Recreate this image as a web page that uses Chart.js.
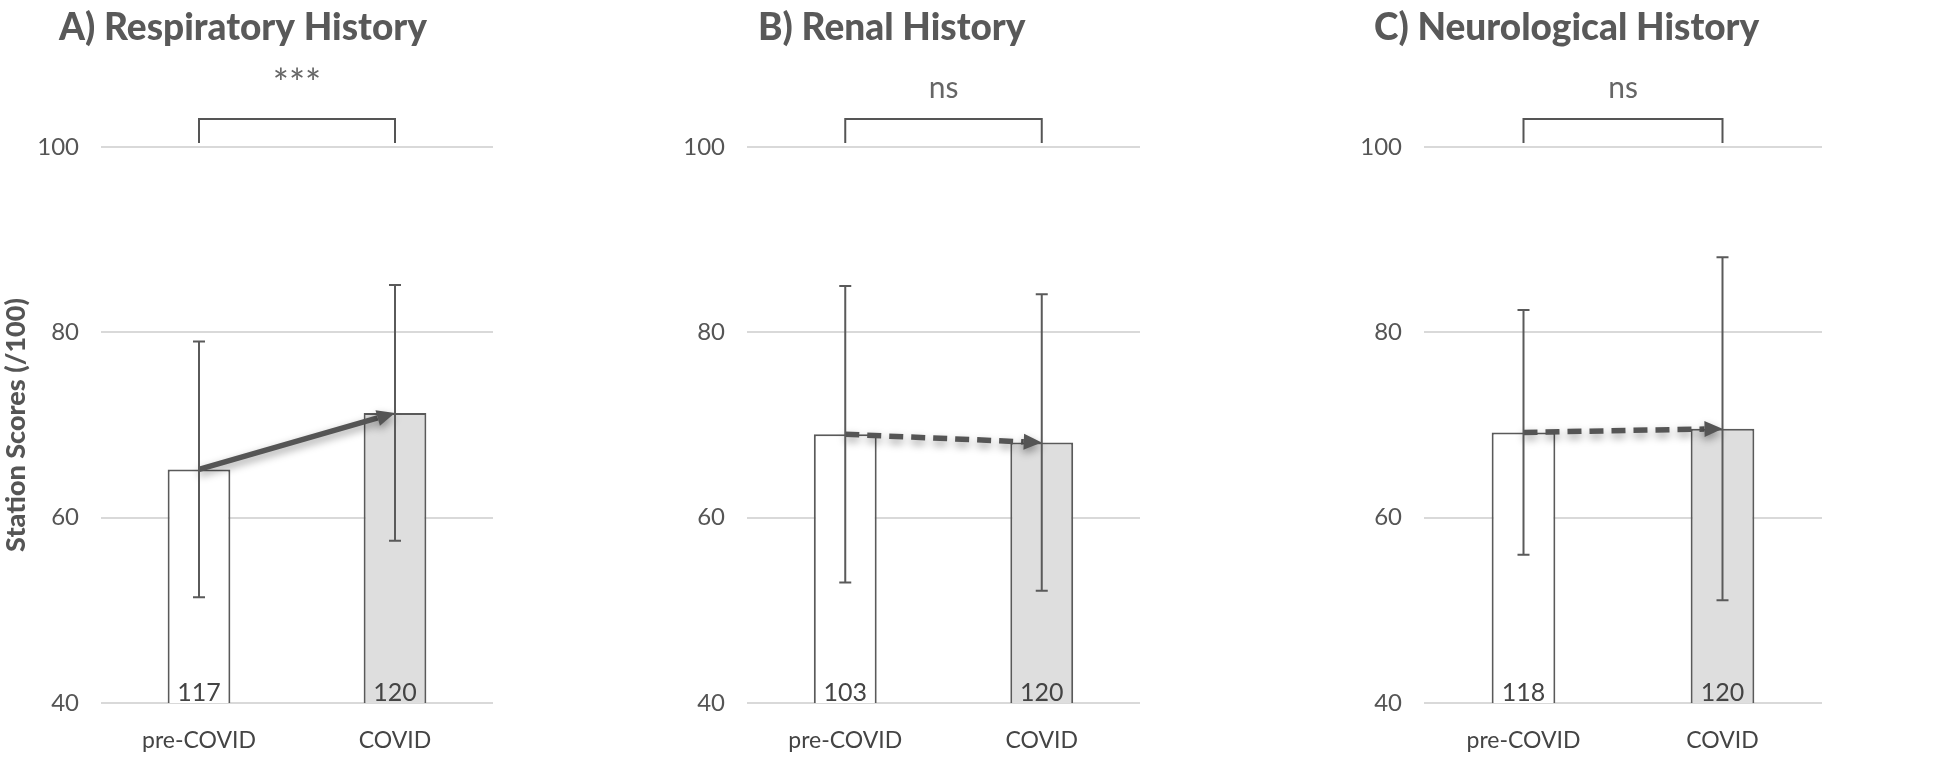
<!DOCTYPE html>
<html>
<head>
<meta charset="utf-8">
<script src="https://cdn.jsdelivr.net/npm/chart.js@4.4.0/dist/chart.umd.min.js"></script>
<style>
  html, body { margin: 0; padding: 0; background: #fff; }
  #wrap { position: relative; width: 1944px; height: 759px; overflow: hidden; }
  canvas { position: absolute; top: 0; }
</style>
</head>
<body>
<div id="wrap">
  <canvas id="chartA" width="648" height="759" style="left:0px"></canvas>
  <canvas id="chartB" width="648" height="759" style="left:648px"></canvas>
  <canvas id="chartC" width="648" height="759" style="left:1296px"></canvas>
</div>
<script>
// data
const groups = ['pre-COVID', 'COVID'];
const yTicks = [40, 60, 80, 100];

const respMeans = [65.2, 71.3];
const respErr = [13.8, 13.8];
const respN = [117, 120];

const renalMeans = [69.0, 68.1];
const renalErr = [16.0, 16.0];
const renalN = [103, 120];

const neuroMeans = [69.2, 69.6];
const neuroErr = [13.2, 18.5];
const neuroN = [118, 120];

const titles = ['A) Respiratory History', 'B) Renal History', 'C) Neurological History'];
const sigLabels = ['***', 'ns', 'ns'];

const FONT = 'Lato, "Open Sans", sans-serif';
const INK = '#595959';

// extra drawing: error bars, trend arrow, n labels, bracket, title
const extras = {
  id: 'extras',
  afterDatasetsDraw(chart, args, o) {
    const ctx = chart.ctx;
    const y = chart.scales.y;
    const bars = chart.getDatasetMeta(0).data;
    ctx.save();

    // trend arrow between bar tops
    const x0 = bars[0].x, y0 = bars[0].y, x1 = bars[1].x, y1 = bars[1].y;
    const ang = Math.atan2(y1 - y0, x1 - x0);
    const head = 18, half = 8;
    const bx = x1 - head * Math.cos(ang), by = y1 - head * Math.sin(ang);
    ctx.shadowColor = 'rgba(0,0,0,0.4)';
    ctx.shadowBlur = 8;
    ctx.shadowOffsetY = 4;
    ctx.strokeStyle = '#555';
    ctx.fillStyle = '#555';
    ctx.lineWidth = 5.5;
    ctx.setLineDash(o.dashed ? [14, 8] : []);
    ctx.beginPath();
    ctx.moveTo(x0, y0);
    ctx.lineTo(bx, by);
    ctx.stroke();
    ctx.setLineDash([]);
    ctx.beginPath();
    ctx.moveTo(x1, y1);
    ctx.lineTo(bx + half * Math.sin(ang), by - half * Math.cos(ang));
    ctx.lineTo(bx - half * Math.sin(ang), by + half * Math.cos(ang));
    ctx.closePath();
    ctx.fill();
    ctx.shadowColor = 'transparent';

    // error bars
    ctx.strokeStyle = '#5a5a5a';
    ctx.lineWidth = 2;
    bars.forEach((b, i) => {
      const top = y.getPixelForValue(o.means[i] + o.err[i]);
      const bot = y.getPixelForValue(o.means[i] - o.err[i]);
      ctx.beginPath();
      ctx.moveTo(b.x, top); ctx.lineTo(b.x, bot);
      ctx.moveTo(b.x - 6, top); ctx.lineTo(b.x + 6, top);
      ctx.moveTo(b.x - 6, bot); ctx.lineTo(b.x + 6, bot);
      ctx.stroke();
    });

    // n labels
    ctx.fillStyle = '#444';
    ctx.font = '25px ' + FONT;
    ctx.textAlign = 'center';
    ctx.textBaseline = 'alphabetic';
    bars.forEach((b, i) => ctx.fillText(String(o.n[i]), b.x, chart.chartArea.bottom - 2));

    // significance bracket
    ctx.strokeStyle = '#555';
    ctx.lineWidth = 2;
    ctx.beginPath();
    ctx.moveTo(x0, 143); ctx.lineTo(x0, 119); ctx.lineTo(x1, 119); ctx.lineTo(x1, 143);
    ctx.stroke();
    ctx.fillStyle = '#666';
    if (o.sig.includes('*')) {
      ctx.font = '38px ' + FONT;
      ctx.fillText(o.sig, (x0 + x1) / 2, 97);
    } else {
      ctx.font = '30px ' + FONT;
      ctx.fillText(o.sig, (x0 + x1) / 2, 98);
    }

    // panel title
    ctx.fillStyle = INK;
    ctx.font = '900 37px ' + FONT;
    ctx.textAlign = 'left';
    ctx.fillText(o.title, o.titleX, 40);
    ctx.restore();
  }
};

function makePanel(id, idx, means, err, n, layout) {
  new Chart(document.getElementById(id), {
    type: 'bar',
    data: {
      labels: groups,
      datasets: [{
        data: means,
        backgroundColor: ['#ffffff', '#dedede'],
        borderColor: '#5a5a5a',
        borderWidth: 2,
        barPercentage: 0.32,
        categoryPercentage: 1
      }]
    },
    options: {
      responsive: false,
      animation: false,
      events: [],
      layout: { padding: { top: 147, right: 648 - layout.right, left: 0, bottom: 0 } },
      scales: {
        x: {
          grid: { display: false },
          border: { display: false },
          ticks: { color: '#444', font: { family: FONT, size: 23 }, padding: 16 },
          afterFit: s => { s.height = 56; }
        },
        y: {
          min: 40, max: 100,
          afterBuildTicks: s => { s.ticks = yTicks.map(v => ({ value: v })); },
          grid: { color: '#d9d9d9', lineWidth: 2, drawTicks: false },
          border: { display: false },
          ticks: { color: '#555', font: { family: FONT, size: 24 }, padding: 22 },
          title: {
            display: idx === 0,
            text: 'Station Scores (/100)',
            color: '#555',
            font: { family: FONT, size: 27, weight: '900' },
            padding: { top: 0, bottom: 0 }
          },
          afterFit: s => { s.width = layout.left; }
        }
      },
      plugins: {
        legend: { display: false },
        tooltip: { enabled: false },
        extras: { means, err, n, sig: sigLabels[idx], title: titles[idx], titleX: layout.titleX, dashed: idx > 0 }
      }
    },
    plugins: [extras]
  });
}

makePanel('chartA', 0, respMeans, respErr, respN, { left: 101, right: 493, titleX: 59 });
makePanel('chartB', 1, renalMeans, renalErr, renalN, { left: 99, right: 492, titleX: 110 });
makePanel('chartC', 2, neuroMeans, neuroErr, neuroN, { left: 128, right: 526, titleX: 78 });
</script>
</body>
</html>
